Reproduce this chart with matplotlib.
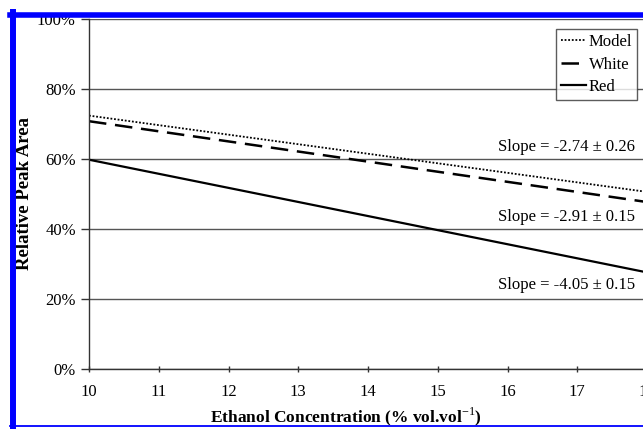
import matplotlib
matplotlib.use('Agg')
import matplotlib.pyplot as plt
from matplotlib.lines import Line2D
import numpy as np

# data (ethanol % vs relative peak area %)
ethanol = [10, 18]
model = [72.4, 50.6]
white = [70.8, 47.7]
red = [59.8, 27.6]

slope_labels = ['Slope = -2.74 \u00b1 0.26',
                'Slope = -2.91 \u00b1 0.15',
                'Slope = -4.05 \u00b1 0.15']
slope_y = [63.4, 43.4, 24.0]

xticks = list(range(10, 19))
yticks = [0, 20, 40, 60, 80, 100]

W, H = 643, 429
plt.rcParams['font.family'] = ['Liberation Serif', 'DejaVu Serif']
plt.rcParams['mathtext.fontset'] = 'custom'
plt.rcParams['mathtext.rm'] = 'Liberation Serif'
plt.rcParams['mathtext.bf'] = 'Liberation Serif:bold'

fig = plt.figure(figsize=(W/100., H/100.), dpi=100, facecolor='white')
# plot area runs slightly past the right edge (picture is cropped)
ax = fig.add_axes([89./W, (H-369.)/H, (647.-89.)/W, 350./H])

ax.plot(ethanol, model, color='black', lw=1.3, ls=(0, (1, 1)), label='Model')
ax.plot(ethanol, white, color='black', lw=1.8, ls=(0, (7, 3.5)), label='White')
ax.plot(ethanol, red, color='black', lw=1.6, ls='-', label='Red')

ax.set_xlim(10, 18)
ax.set_ylim(0, 100)
ax.set_xticks(xticks)
ax.set_yticks(yticks)
ax.set_yticklabels(['%d%%' % v for v in yticks])
ax.yaxis.grid(True, color='#555555', lw=1.0)
ax.set_axisbelow(True)

for s in ['top', 'right']:
    ax.spines[s].set_visible(False)
for s in ['left', 'bottom']:
    ax.spines[s].set_color('#333333')
    ax.spines[s].set_linewidth(1.0)

ax.tick_params(axis='y', direction='out', length=6, width=1.0,
               color='#333333', labelsize=12, pad=3.5)
ax.tick_params(axis='x', direction='inout', length=5, width=1.0,
               color='#333333', labelsize=12, pad=8)

for lab, yy in zip(slope_labels, slope_y):
    ax.text(17.83, yy, lab, ha='right', va='center', fontsize=12)

ax.set_xlabel('Ethanol Concentration (% vol.vol$^{\\mathrm{-1}}$)',
              fontsize=12.5, fontweight='bold')
ax.xaxis.set_label_coords((346. - 89.) / 558., -(405. - 369.) / 350.)
ax.set_ylabel('Relative Peak Area', fontsize=13.5, fontweight='bold')
ax.yaxis.set_label_coords((33. - 89.) / 558., (369. - 194.) / 350.)

leg = ax.legend(loc='upper right', bbox_to_anchor=(637./W, (H-29.)/H),
                bbox_transform=fig.transFigure, fontsize=12, frameon=True,
                fancybox=False, edgecolor='#333333', handlelength=1.5,
                handletextpad=0.15, borderpad=0.3, labelspacing=0.4,
                borderaxespad=0)
leg.get_frame().set_linewidth(1.0)

# blue frame around the figure
def px(x, y):
    return x / W, 1 - y / H
for (x0, y0), (x1, y1), lw in [((13, 12), (13, 429), 4.3),
                               ((10, 14.5), (643, 14.5), 4.0),
                               ((10, 425.5), (643, 425.5), 1.3)]:
    a, b = px(x0, y0)
    c, d = px(x1, y1)
    fig.add_artist(Line2D([a, c], [b, d], color='#0000ff', lw=lw, zorder=10))

fig.savefig('out.png', dpi=100, facecolor='white')
